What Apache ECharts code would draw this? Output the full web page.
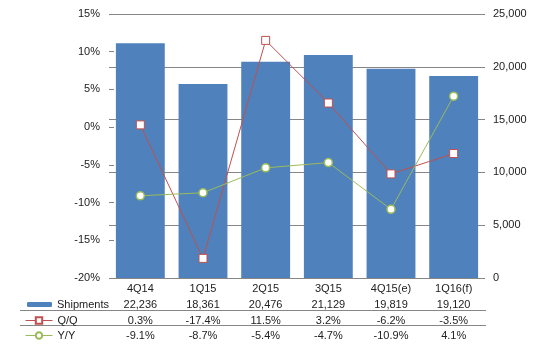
<!DOCTYPE html>
<html>
<head>
<meta charset="utf-8">
<script src="https://cdn.jsdelivr.net/npm/echarts@6/dist/echarts.min.js"></script>
<style>
html, body { margin: 0; padding: 0; background: #fff; }
#chart { width: 539px; height: 350px; }
</style>
</head>
<body>
<div id="chart"></div>
<script>
var quarters = ['4Q14', '1Q15', '2Q15', '3Q15', '4Q15(e)', '1Q16(f)'];
var shipments = [22236, 18361, 20476, 21129, 19819, 19120];
var qoq = [0.3, -17.4, 11.5, 3.2, -6.2, -3.5];
var yoy = [-9.1, -8.7, -5.4, -4.7, -10.9, 4.1];

var FONT = '"Liberation Sans", Arial, sans-serif';
var TXT = '#222';
var GRID = '#868686';

function fmtNum(v) { return v.toString().replace(/\B(?=(\d{3})+(?!\d))/g, ','); }
function fmtPct(v) { return v.toFixed(1) + '%'; }

// 表格行（用额外的类目轴画）
function tableAxis(labels, offset) {
	return {
		type: 'category',
		gridIndex: 0,
		position: 'bottom',
		offset: offset,
		data: labels,
		axisLine: { show: false },
		axisTick: { show: false },
		splitLine: { show: false },
		axisLabel: { interval: 0, margin: 5, color: TXT, fontFamily: FONT, fontSize: 11 }
	};
}

function legendRow(name, left, top, w, h) {
	return {
		left: left, top: top, orient: 'vertical', data: [name],
		padding: 0,
		itemWidth: w, itemHeight: h,
		lineStyle: { width: 1 },
		textStyle: { color: TXT, fontFamily: FONT, fontSize: 11 }
	};
}

var chart = echarts.init(document.getElementById('chart'));
var option = {
	animation: false,
	grid: { left: 109, right: 54, top: 14, bottom: 72 },
	legend: [
		legendRow('Shipments', 27, 299, 25, 5),
		legendRow('Q/Q', 25, 315, 27, 8),
		legendRow('Y/Y', 25, 330, 27, 8)
	],
	xAxis: [
		{
			type: 'category',
			data: quarters,
			axisLine: { show: false },
			axisTick: { show: false },
			axisLabel: { interval: 0, margin: 5, color: TXT, fontFamily: FONT, fontSize: 11 }
		},
		tableAxis(shipments.map(fmtNum), 16),
		tableAxis(qoq.map(fmtPct), 32),
		tableAxis(yoy.map(fmtPct), 47)
	],
	yAxis: [
		{
			type: 'value',
			min: -20, max: 15, interval: 5,
			axisLine: { show: false },
			axisTick: { show: true, inside: true, length: 5, lineStyle: { color: GRID } },
			splitLine: { show: false },
			axisLabel: { formatter: '{value}%', margin: 9, color: TXT, fontFamily: FONT, fontSize: 11 }
		},
		{
			type: 'value',
			min: 0, max: 25000, interval: 5000,
			axisLine: { show: false },
			axisTick: { show: true, inside: true, length: 5, lineStyle: { color: GRID } },
			splitLine: { show: true, lineStyle: { color: GRID, width: 1 } },
			axisLabel: { formatter: function (v) { return fmtNum(v); }, margin: 8, color: TXT, fontFamily: FONT, fontSize: 11 }
		}
	],
	graphic: [
		{ type: 'line', shape: { x1: 20, y1: 310.5, x2: 486, y2: 310.5 }, style: { stroke: GRID, lineWidth: 1 } },
		{ type: 'line', shape: { x1: 20, y1: 325.5, x2: 486, y2: 325.5 }, style: { stroke: GRID, lineWidth: 1 } }
	],
	series: [
		{
			name: 'Shipments',
			type: 'bar',
			yAxisIndex: 1,
			barCategoryGap: '22%',
			itemStyle: { color: '#4F81BD' },
			data: shipments
		},
		{
			name: 'Q/Q',
			type: 'line',
			yAxisIndex: 0,
			symbol: 'rect',
			symbolSize: 8,
			lineStyle: { color: '#C0504D', width: 1 },
			itemStyle: { color: '#fff', borderColor: '#C0504D', borderWidth: 1 },
			data: qoq
		},
		{
			name: 'Y/Y',
			type: 'line',
			yAxisIndex: 0,
			symbol: 'circle',
			symbolSize: 8,
			lineStyle: { color: '#9BBB59', width: 1 },
			itemStyle: { color: '#fff', borderColor: '#9BBB59', borderWidth: 1.5 },
			data: yoy
		}
	]
};
chart.setOption(option);
</script>
</body>
</html>
